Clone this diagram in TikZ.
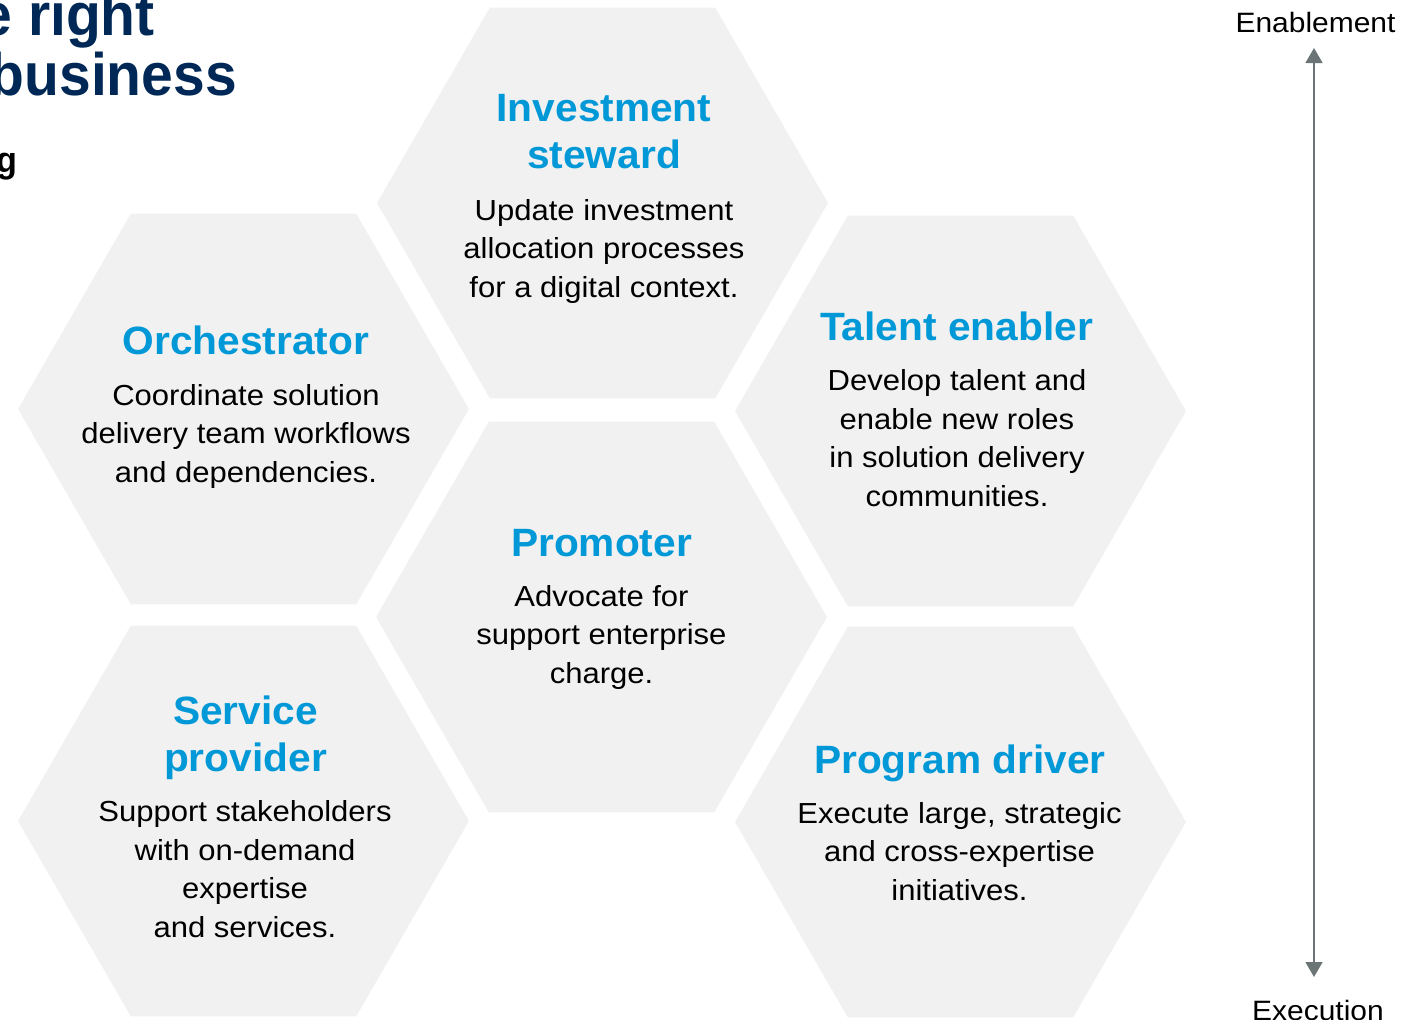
\documentclass[tikz,border=0pt]{standalone}
\usepackage{fontspec}
\setmainfont{Liberation Sans}
\newfontfamily\bodyfont{Liberation Sans}[FakeStretch=1.07]
\newfontfamily\headfont{Liberation Sans}[FakeStretch=1.03]
\newfontfamily\bigfont{Liberation Sans}[FakeStretch=0.95]
\usetikzlibrary{shapes.geometric,arrows.meta}
\definecolor{hexfill}{HTML}{F1F1F1}
\definecolor{roleblue}{HTML}{0098D7}
\definecolor{navy}{HTML}{002856}
\definecolor{axisgray}{HTML}{6B7576}
\begin{document}
\begin{tikzpicture}[x=1pt,y=-1pt,
  hexagon/.style={regular polygon, regular polygon sides=6, minimum size=451pt,
    inner sep=0pt, outer sep=0pt, fill=hexfill, draw=none},
  roletitle/.style={anchor=base, align=center, inner sep=0pt, text=roleblue,
    font=\headfont\bfseries\fontsize{39.5}{46.5}\selectfont},
  roletext/.style={anchor=base, align=center, inner sep=0pt, text=black,
    font=\bodyfont\fontsize{29}{38.5}\selectfont},
  axislabel/.style={anchor=base, inner sep=0pt, text=black,
    font=\bodyfont\fontsize{28}{32}\selectfont},
  headline/.style={anchor=base east, inner sep=0pt, text=navy,
    font=\bigfont\bfseries\fontsize{60}{60}\selectfont},
  axisarrow/.style={draw=axisgray, line width=1.5pt,
    {Triangle[width=17pt,length=15pt]}-{Triangle[width=17pt,length=15pt]}}
]
\useasboundingbox (0,0) rectangle (1417,1020);
\clip (0,0) rectangle (1417,1020);

% headline (cut off at the left edge)
\node[headline] (h1) at (155,35) {e right};
\node[headline] (h2) at (237,95) {business};
\node[headline, text=black, font=\bigfont\bfseries\fontsize{36}{36}\selectfont] (h3) at (18,172) {g};

% hexagons
\node[hexagon] (inv) at (602.5,203) {};
\node[hexagon] (orch) at (243.5,409) {};
\node[hexagon] (tal) at (960.5,411) {};
\node[hexagon] (prom) at (601.5,617) {};
\node[hexagon] (serv) at (243.5,821) {};
\node[hexagon] (prog) at (960.5,822) {};

% texts (multi-line nodes are placed by the baseline of their last line)
\node[roletitle] (inv-t) at (604,168) {Investment\\steward};
\node[roletext] (inv-b) at (604,297) {Update investment\\allocation processes\\for a digital context.};

\node[roletitle] (orch-t) at (246,354) {Orchestrator};
\node[roletext] (orch-b) at (246,482) {Coordinate solution\\delivery team workflows\\and dependencies.};

\node[roletitle] (tal-t) at (956.5,340) {Talent enabler};
\node[roletext] (tal-b) at (957,506) {Develop talent and\\enable new roles\\in solution delivery\\communities.};

\node[roletitle] (prom-t) at (601.5,556) {Promoter};
\node[roletext] (prom-b) at (601.5,683) {Advocate for\\support enterprise\\charge.};

\node[roletitle] (serv-t) at (245.5,771) {Service\\provider};
\node[roletext] (serv-b) at (245,937) {Support stakeholders\\with on-demand\\expertise\\and services.};

\node[roletitle] (prog-t) at (960,773) {Program driver};
\node[roletext] (prog-b) at (959.5,900) {Execute large, strategic\\and cross-expertise\\initiatives.};

% axis
\node[axislabel] (en) at (1315.5,32) {Enablement};
\node[axislabel] (ex) at (1318,1020) {Execution};
\coordinate (axtop) at (1314,48);
\coordinate (axbot) at (1314,977);
\draw[axisarrow] (axtop) -- (axbot);
\end{tikzpicture}
\end{document}
